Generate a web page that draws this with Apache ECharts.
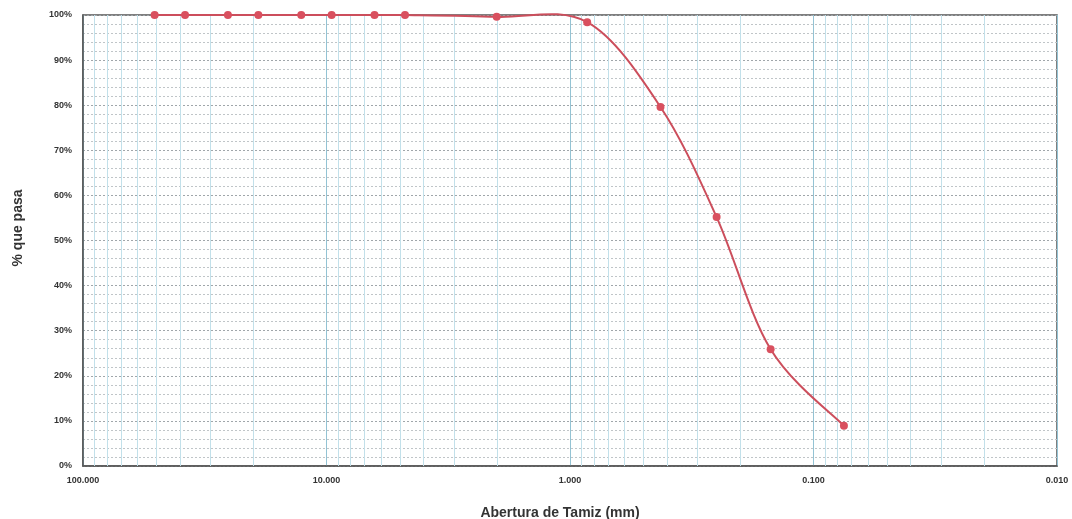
<!DOCTYPE html>
<html><head><meta charset="utf-8">
<script src="https://cdn.jsdelivr.net/npm/echarts@6/dist/echarts.min.js"></script>
<style>html,body{margin:0;padding:0;background:#fff}#c{width:1072px;height:519px}</style>
</head><body><div id="c"></div>
<script>
// Sieve apertures (mm) and percent passing
const sizes = [50.8, 38.1, 25.4, 19.05, 12.7, 9.525, 6.35, 4.76, 2.0, 0.85, 0.425, 0.25, 0.15, 0.075];
const passing = [100, 100, 100, 100, 100, 100, 100, 100, 99.6, 98.4, 79.6, 55.2, 25.9, 8.9];
const xTickLabels = ['100.000', '10.000', '1.000', '0.100', '0.010'];
const yTickLabels = ['0%','10%','20%','30%','40%','50%','60%','70%','80%','90%','100%'];
const decades = [0.01, 0.1, 1, 10];
const minorMultipliers = [2, 3, 4, 5, 6, 7, 8, 9];

const minorValues = [];
decades.forEach(d => minorMultipliers.forEach(m => minorValues.push(+(d * m).toPrecision(6))));

const points = sizes.map((s, i) => [s, passing[i]]);
const lineColor = '#cc4e5c';

// Smooth curve segments (Catmull-Rom style Bezier) through the data, positioned by the axes
function renderSegment(params, api) {
  const i = params.dataIndex;
  const n = points.length;
  if (i >= n - 1) return null;
  const P = j => api.coord(points[Math.max(0, Math.min(n - 1, j))]);
  const p0 = P(i - 1), p1 = P(i), p2 = P(i + 1), p3 = P(i + 2);
  const t = 1 / 6;
  return {
    type: 'bezierCurve',
    shape: {
      x1: p1[0], y1: p1[1], x2: p2[0], y2: p2[1],
      cpx1: p1[0] + (p2[0] - p0[0]) * t, cpy1: p1[1] + (p2[1] - p0[1]) * t,
      cpx2: p2[0] - (p3[0] - p1[0]) * t, cpy2: p2[1] - (p3[1] - p1[1]) * t
    },
    style: { stroke: lineColor, lineWidth: 2, fill: null, lineCap: 'round' },
    silent: true
  };
}

// Minor vertical log gridlines (2..9 per decade), positioned by the x axis
function renderMinorGrid(params, api) {
  const v = api.value(0);
  const top = api.coord([v, 100]);
  const bot = api.coord([v, 0]);
  const x = Math.round(top[0]) + 0.5;
  return {
    type: 'line',
    shape: { x1: x, y1: top[1], x2: x, y2: bot[1] },
    style: { stroke: '#c2e0ea', lineWidth: 1 },
    silent: true
  };
}

const chart = echarts.init(document.getElementById('c'), null, { renderer: 'canvas' });
const font = '"Liberation Sans", Arial, sans-serif';
chart.setOption({
  animation: false,
  backgroundColor: '#fff',
  grid: { left: 83, right: 15, top: 15, bottom: 53, show: true, borderColor: '#555', borderWidth: 1.5, backgroundColor: 'transparent' },
  title: [
    { text: 'Abertura de Tamiz (mm)', left: 555, top: 501, textAlign: 'center',
      textStyle: { fontFamily: font, fontSize: 14, fontWeight: 'bold', color: '#333' } }
  ],
  graphic: [
    { type: 'text', x: 18, y: 228, rotation: Math.PI / 2, style: { text: '% que pasa', fontFamily: font, fontSize: 14, fontWeight: 'bold', fill: '#333', textAlign: 'center', textVerticalAlign: 'middle' } }
  ],
  xAxis: {
    type: 'log', logBase: 10, min: 0.01, max: 100, inverse: true,
    axisLine: { show: true, lineStyle: { color: '#555', width: 1.5 } },
    axisTick: { show: false },
    axisLabel: {
      margin: 10, fontFamily: font, fontSize: 9, fontWeight: 'bold', color: '#333',
      formatter: v => {
        const i = Math.round(2 - Math.log10(v));
        return xTickLabels[i] !== undefined ? xTickLabels[i] : '';
      }
    },
    splitLine: { show: true, lineStyle: { color: '#94c3d4', width: 1 } }
  },
  yAxis: {
    type: 'value', min: 0, max: 100, interval: 10,
    axisLine: { show: true, lineStyle: { color: '#555', width: 1.5 } },
    axisTick: { show: false },
    axisLabel: {
      margin: 11, fontFamily: font, fontSize: 9, fontWeight: 'bold', color: '#333',
      formatter: v => yTickLabels[Math.round(v / 10)]
    },
    splitLine: { show: true, lineStyle: { color: '#a0a6aa', type: [2, 2], width: 1 } },
    minorTick: { show: false, splitNumber: 5 },
    minorSplitLine: { show: true, lineStyle: { color: '#c0c5c8', type: [2, 2], width: 1 } }
  },
  series: [
    {
      type: 'custom', data: minorValues.map(v => [v, 0]), renderItem: renderMinorGrid,
      z: 1, silent: true, encode: { x: 0, y: 1 }
    },
    {
      type: 'custom', data: points, renderItem: renderSegment, clip: false, z: 4,
      encode: { x: 0, y: 1 }
    },
    {
      type: 'scatter', data: points, symbol: 'circle', symbolSize: 8,
      itemStyle: { color: '#d9505f', opacity: 1 }, z: 5
    }
  ]
});
</script></body></html>
